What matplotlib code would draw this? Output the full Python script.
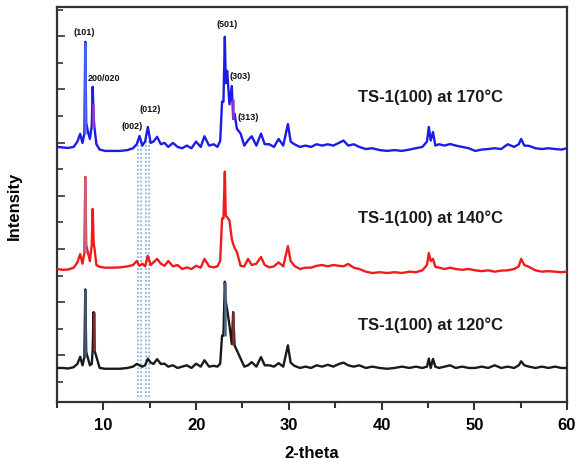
import numpy as np
import matplotlib
matplotlib.use("Agg")
import matplotlib.pyplot as plt
from matplotlib.ticker import MultipleLocator, NullFormatter

plt.rcParams['font.family'] = ['Liberation Sans', 'DejaVu Sans']
plt.rcParams['font.weight'] = 'bold'

# 2-theta grid (degrees), shared by the three patterns
two_theta = [5.0, 5.6, 6.2, 6.8, 7.2, 7.5, 7.75, 7.95, 8.05, 8.15,
             8.35, 8.55, 8.75, 8.85, 8.95, 9.05, 9.25, 9.6, 10.2, 11.0,
             11.8, 12.6, 13.2, 13.6, 13.9, 14.2, 14.5, 14.8, 15.1, 15.4,
             15.8, 16.2, 16.6, 17.0, 17.5, 18.0, 18.5, 19.0, 19.5, 20.0,
             20.5, 20.9, 21.4, 21.9, 22.3, 22.6, 22.8, 22.95, 23.1, 23.2,
             23.35, 23.6, 23.85, 24.0, 24.15, 24.4, 24.8, 25.2, 25.6, 26.0,
             26.5, 27.0, 27.4, 27.9, 28.4, 28.9, 29.4, 29.9, 30.2, 30.6,
             31.2, 31.8, 32.4, 33.0, 33.6, 34.2, 34.8, 35.4, 35.9, 36.4,
             37.0, 37.6, 38.3, 39.0, 39.8, 40.6, 41.4, 42.2, 43.0, 43.7,
             44.4, 44.9, 45.1, 45.3, 45.55, 45.8, 46.2, 46.8, 47.4, 48.0,
             48.7, 49.4, 50.1, 50.8, 51.5, 52.2, 52.9, 53.6, 54.3, 54.8,
             55.05, 55.4, 55.9, 56.6, 57.3, 58.0, 58.7, 59.4, 60.0]

# intensities (a.u.) for each sample
i_170 = [0.0, -0.02, -0.04, 0.0, 0.2, 0.49, 0.15, 0.5, 3.95, 0.9,
         0.55, 0.3, 0.8, 2.26, 1.1, 0.7, 0.1, -0.1, -0.15, -0.15,
         -0.15, -0.12, -0.05, 0.1, 0.41, 0.05, 0.2, 0.75, 0.15, 0.2,
         0.38, 0.1, 0.15, 0.0, 0.15, 0.0, -0.05, 0.05, -0.05, 0.2,
         0.0, 0.4, 0.05, 0.1, 0.0, 0.22, 1.7, 1.7, 4.14, 2.4,
         2.86, 1.6, 2.29, 1.05, 1.25, 0.68, 0.5, 0.05, 0.25, 0.4,
         0.05, 0.5, 0.1, 0.1, 0.0, 0.3, 0.05, 0.86, 0.2, 0.1,
         0.0, 0.05, 0.0, 0.1, 0.05, 0.1, 0.05, 0.15, 0.24, 0.05,
         0.1, 0.0, -0.08, -0.05, -0.12, -0.15, -0.12, -0.15, -0.1, -0.05,
         0.0, 0.2, 0.75, 0.24, 0.56, 0.05, 0.1, 0.05, 0.11, 0.05,
         0.0, -0.05, -0.15, -0.1, -0.08, -0.05, -0.08, 0.1, 0.0, 0.1,
         0.3, 0.05, 0.04, -0.05, -0.08, -0.05, -0.08, -0.1, -0.05]

i_140 = [0.0, -0.03, -0.02, 0.05, 0.25, 0.56, 0.2, 0.6, 3.46, 0.9,
         0.6, 0.3, 0.9, 2.26, 1.0, 0.75, 0.15, 0.08, 0.05, 0.05,
         0.06, 0.1, 0.15, 0.3, 0.12, 0.2, 0.1, 0.5, 0.15, 0.25,
         0.38, 0.2, 0.12, 0.3, 0.1, 0.15, 0.0, 0.06, 0.0, 0.12,
         0.05, 0.38, 0.1, 0.06, 0.1, 0.31, 1.9, 1.9, 3.66, 2.0,
         1.95, 1.82, 1.13, 0.94, 0.8, 0.64, 0.12, 0.1, 0.38, 0.15,
         0.2, 0.45, 0.15, 0.06, 0.1, 0.25, 0.1, 0.86, 0.3, 0.12,
         0.0, 0.05, 0.05, 0.12, 0.15, 0.1, 0.15, 0.12, 0.1, 0.19,
         0.05, 0.0, -0.1, -0.15, -0.12, -0.15, -0.12, -0.15, -0.1, -0.12,
         -0.05, 0.15, 0.6, 0.3, 0.38, 0.08, 0.05, 0.0, 0.05, 0.0,
         -0.03, 0.0, -0.05, -0.08, -0.05, -0.1, -0.06, -0.05, 0.0, 0.1,
         0.38, 0.15, 0.08, -0.05, -0.1, -0.08, -0.1, -0.12, -0.1]

i_120 = [0.0, 0.0, -0.02, 0.03, 0.15, 0.42, 0.1, 0.4, 2.95, 0.6,
         0.35, 0.1, 0.15, 0.7, 2.1, 0.65, 0.42, 0.0, -0.03, -0.03,
         -0.03, 0.0, 0.05, 0.15, 0.1, 0.05, 0.1, 0.35, 0.2, 0.15,
         0.33, 0.15, 0.16, 0.05, 0.1, 0.0, 0.05, 0.1, 0.0, 0.16,
         0.05, 0.29, 0.05, 0.08, 0.05, 0.16, 1.22, 1.22, 3.24, 2.5,
         2.2, 1.6, 0.9, 2.1, 0.85, 0.66, 0.35, 0.05, 0.1, 0.22,
         0.05, 0.41, 0.1, 0.1, 0.05, 0.18, 0.05, 0.85, 0.2, 0.08,
         0.0, 0.05, 0.0, 0.1, 0.05, 0.12, 0.05, 0.15, 0.2, 0.1,
         0.05, 0.1, 0.0, 0.05, 0.0, -0.03, 0.0, 0.05, 0.0, 0.05,
         0.0, 0.05, 0.35, 0.0, 0.34, 0.05, 0.0, 0.05, 0.1, 0.0,
         0.05, 0.0, 0.0, 0.05, 0.0, 0.1, 0.0, 0.05, 0.0, 0.1,
         0.25, 0.1, 0.05, 0.0, 0.05, 0.0, 0.05, 0.0, 0.0]

samples = ['TS-1(100) at 170°C', 'TS-1(100) at 140°C', 'TS-1(100) at 120°C']

# highlighted peak segments: (sample index, 2-theta, low, high)
hl_sample = [0, 0, 0, 1, 2, 2, 2, 2]
hl_two_theta = [8.05, 8.85, 24.0, 8.05, 8.05, 8.95, 23.1, 24.0]
hl_low = [0.5, 0.7, 1.05, 0.6, 0.4, 0.65, 1.22, 0.85]
hl_high = [3.95, 1.6, 1.8, 3.46, 2.95, 2.1, 3.24, 2.1]

# reflections marked on the top pattern
hkl_labels = ['(101)', '200/020', '(002)', '(012)', '(501)', '(303)', '(313)']
hkl_two_theta = [7.9, 8.35, 13.1, 15.05, 23.4, 24.8, 25.65]
hkl_height = [4.35, 2.6, 0.8, 1.45, 4.65, 2.7, 1.15]

dotted_two_theta = [13.75, 14.05, 14.65, 14.95]

offsets = [8.84, 4.25, 0.53]
colors = ['#1c1ce8', '#f01c1c', '#1a1a1a']
hl_colors = ['#4a6cf2', '#9a3cc4', '#9a3cc4', '#c26a88', '#3f5f7a', '#8e2a2a', '#4f6a80', '#8e2a2a']
label_y = [10.75, 6.2, 2.18]

fig = plt.figure(figsize=(5.81, 4.6), dpi=100)
ax = fig.add_axes([0.0981, 0.1239, 0.8778, 0.8587])

tt = np.array(two_theta)
for k, ys in enumerate([i_170, i_140, i_120]):
    ax.plot(tt, np.array(ys) + offsets[k], color=colors[k], lw=1.7, zorder=3)
    ax.text(45.3, label_y[k], samples[k], ha='center', va='center',
            fontsize=12, fontweight='bold', color='#1a1a1a')

for j in range(len(hl_two_theta)):
    off = offsets[hl_sample[j]]
    ax.vlines(hl_two_theta[j], hl_low[j] + off, hl_high[j] + off,
              color=hl_colors[j], lw=1.8, zorder=4)

for x in dotted_two_theta:
    ax.vlines(x, -0.55, 9.15, color='#8fb2de', lw=1.3, linestyles=(0, (1, 1.2)), zorder=2)

for lab, x, h in zip(hkl_labels, hkl_two_theta, hkl_height):
    ha = 'left' if lab == '200/020' else 'center'
    ax.text(x, h + offsets[0], lab, ha=ha, va='center', fontsize=6.5,
            fontweight='bold', color='#111111')

ax.set_xlim(5, 60)
ax.set_ylim(-0.75, 14.1)
ax.xaxis.set_major_locator(MultipleLocator(10))
ax.xaxis.set_minor_locator(MultipleLocator(5))
ax.yaxis.set_major_locator(MultipleLocator(2, offset=1))
ax.yaxis.set_minor_locator(MultipleLocator(1))
ax.yaxis.set_major_formatter(NullFormatter())
ax.tick_params(axis='x', which='major', direction='out', length=6, width=1.5,
               labelsize=12, pad=5, color='#333333')
ax.tick_params(axis='x', which='minor', direction='out', length=4, width=1.5, color='#333333')
ax.tick_params(axis='y', which='major', direction='in', length=6, width=1.2, color='#333333')
ax.tick_params(axis='y', which='minor', direction='in', length=4, width=1.2, color='#333333')
for lab in ax.get_xticklabels():
    lab.set_fontweight('bold')
for s in ax.spines.values():
    s.set_linewidth(1.6)
    s.set_color('#333333')

ax.set_xlabel('2-theta', fontsize=12, fontweight='bold', labelpad=9)
ax.set_ylabel('Intensity', fontsize=12, fontweight='bold', labelpad=22)

fig.savefig('out.png', dpi=100)
